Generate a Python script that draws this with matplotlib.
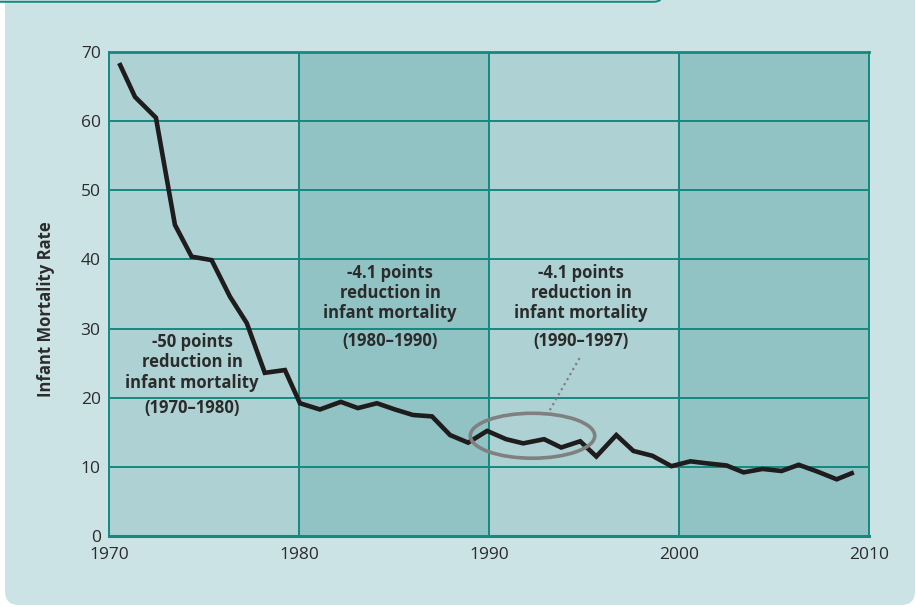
import matplotlib
matplotlib.use("Agg")
import matplotlib.pyplot as plt
from matplotlib.patches import Ellipse, FancyBboxPatch

# ---- data ----
years = [1970.54, 1971.37, 1972.47, 1973.47, 1974.35, 1975.4, 1976.37, 1977.25, 1978.2, 1979.26,
         1980.05, 1981.1, 1982.2, 1983.1, 1984.1, 1985.05, 1986.0, 1987.0, 1987.95, 1988.9,
         1989.9, 1990.9, 1991.8, 1992.9, 1993.8, 1994.8, 1995.65, 1996.7, 1997.6, 1998.6,
         1999.6, 2000.6, 2001.5, 2002.5, 2003.4, 2004.4, 2005.4, 2006.3, 2007.3, 2008.3, 2009.2]
imr = [68.4, 63.5, 60.5, 45.0, 40.4, 39.9, 34.6, 30.8, 23.6, 24.0,
       19.2, 18.3, 19.4, 18.5, 19.2, 18.3, 17.5, 17.3, 14.6, 13.5,
       15.2, 14.0, 13.4, 14.0, 12.8, 13.7, 11.5, 14.6, 12.3, 11.6,
       10.1, 10.8, 10.5, 10.2, 9.2, 9.7, 9.4, 10.3, 9.3, 8.2, 9.2]
decade_edges = [1970, 1980, 1990, 2000, 2010]
x_ticks = [1970, 1980, 1990, 2000, 2010]
y_ticks = [0, 10, 20, 30, 40, 50, 60, 70]
annotations = [
    ["-50 points", "reduction in", "infant mortality", "(1970\u20131980)"],
    ["-4.1 points", "reduction in", "infant mortality", "(1980\u20131990)"],
    ["-4.1 points", "reduction in", "infant mortality", "(1990\u20131997)"],
]
y_label = "Infant Mortality Rate"

# ---- style ----
BG = "#cce3e5"
LIGHT = "#aed2d3"
DARK = "#92c3c4"
TEAL = "#14897f"
TEXT = "#2b2b2b"

plt.rcParams['font.family'] = ['Open Sans', 'DejaVu Sans']

W, H = 916, 607
fig = plt.figure(figsize=(W / 100, H / 100), dpi=100)
fig.patch.set_facecolor("white")

# panel background (rounded)
panel = FancyBboxPatch((5 / W, 2 / H), (W - 6) / W, (H + 40) / H,
                       boxstyle="round,pad=0,rounding_size=0.015",
                       transform=fig.transFigure, facecolor=BG, edgecolor="none",
                       zorder=-3, mutation_aspect=W / H)
fig.patches.append(panel)
# header box bottom edge (teal line at top)
header = FancyBboxPatch((-20 / W, (H - 1.8) / H), (663 + 20) / W, 40 / H,
                        boxstyle="round,pad=0,rounding_size=0.01",
                        transform=fig.transFigure, facecolor=BG, edgecolor=TEAL,
                        linewidth=1.4, zorder=-2, mutation_aspect=W / H)
fig.patches.append(header)

ax = fig.add_axes([109 / W, (H - 536) / H, 760 / W, 484 / H])
ax.set_zorder(2)
ax.set_facecolor(LIGHT)
ax.set_xlim(decade_edges[0], decade_edges[-1])
ax.set_ylim(0, 70)

for i in range(len(decade_edges) - 1):
    ax.axvspan(decade_edges[i], decade_edges[i + 1],
               color=LIGHT if i % 2 == 0 else DARK, zorder=0, lw=0)

ax.set_xticks(x_ticks)
ax.set_yticks(y_ticks)
ax.grid(True, color=TEAL, linewidth=1.4, zorder=1)
ax.set_axisbelow(True)
for s in ax.spines.values():
    s.set_color(TEAL)
    s.set_linewidth(1.4)
ax.spines['bottom'].set_linewidth(2.2)
ax.spines['top'].set_linewidth(2.0)
ax.tick_params(length=0, labelsize=12.5, colors=TEXT, pad=6)
ax.tick_params(axis='x', pad=8)

ax.set_ylabel(y_label, fontsize=12, fontweight='bold', color=TEXT)
ax.yaxis.set_label_coords(-54 / 760, (536 - 309) / 484)

ax.plot(years, imr, color="#1e1c1c", linewidth=3.3, zorder=4,
        solid_joinstyle='miter', solid_capstyle='butt')

# highlight ellipse and dotted leader
ax.add_patch(Ellipse((1992.29, 14.5), 6.55, 6.5, fill=False, edgecolor="#808080",
                     linewidth=2.6, zorder=5))
ax.plot([1993.2, 1994.8], [18.2, 25.9], color="#808080", linestyle=(0, (1, 1.6)),
        linewidth=1.6, zorder=5)

# annotations
ann_x = [1974.37, 1984.79, 1994.84]
ann_y = [[28.1, 25.2, 22.1, 18.5], [38.1, 35.1, 32.2, 28.25], [38.1, 35.1, 32.2, 28.25]]
for lines, xc, ys in zip(annotations, ann_x, ann_y):
    for txt, yy in zip(lines, ys):
        ax.text(xc, yy, txt, ha='center', va='center', fontsize=12,
                fontweight='bold', color=TEXT, zorder=6)

fig.savefig("out.png", dpi=100, facecolor=fig.get_facecolor())
